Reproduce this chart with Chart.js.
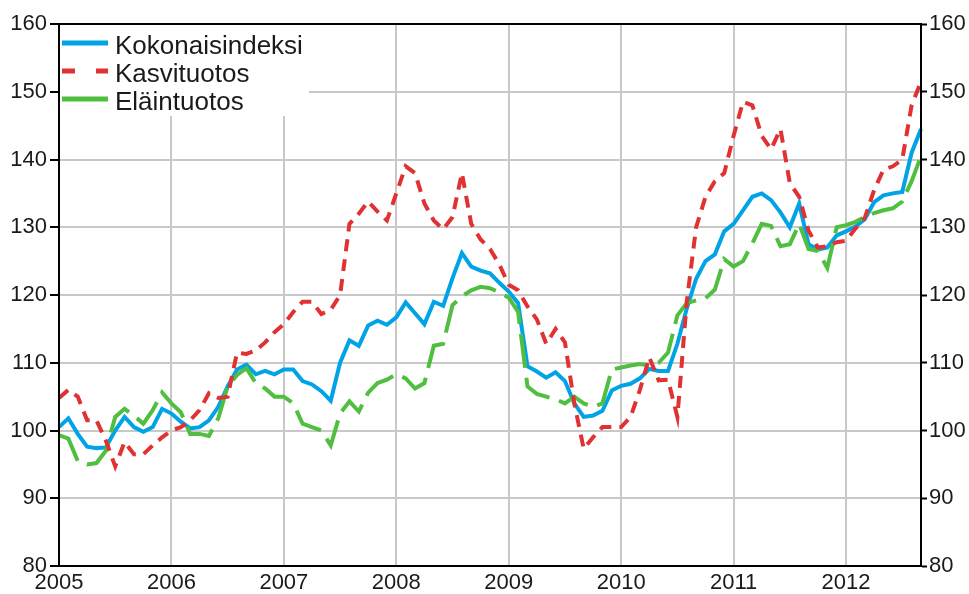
<!DOCTYPE html>
<html>
<head>
<meta charset="utf-8">
<script src="https://cdn.jsdelivr.net/npm/chart.js@4.4.1/dist/chart.umd.min.js"></script>
<style>
  html, body { margin: 0; padding: 0; background: #fff; }
  #wrap { width: 969px; height: 594px; }
</style>
</head>
<body>
<div id="wrap"><canvas id="line"></canvas></div>
<script>
// Categories: months from Jan 2005 to Sep 2012
const years = ['2005', '2006', '2007', '2008', '2009', '2010', '2011', '2012'];
const monthsInLastYear = 9;

// Series values (index, 2005 = 100)
const kokonaisindeksi = [
  100.5, 101.8, 99.5, 97.6, 97.4, 97.5, 100, 102, 100.5, 99.8, 100.5, 103.2,
  102.5, 101.3, 100.3, 100.5, 101.5, 103.5, 106.5, 109, 109.7, 108.3, 108.8, 108.3,
  109, 109, 107.3, 106.8, 105.8, 104.4, 110, 113.3, 112.5, 115.5, 116.2, 115.6,
  116.7, 118.9, 117.3, 115.7, 119, 118.4, 122.5, 126.2, 124.2, 123.6, 123.2, 121.8,
  120.5, 118.8, 109.5, 108.7, 107.8, 108.6, 107.3, 104, 102, 102.2, 102.9, 105.9,
  106.6, 106.9, 107.7, 109.1, 108.8, 108.8, 112.8, 118, 122.4, 125, 126, 129.4,
  130.5, 132.5, 134.5, 135, 134, 132.2, 130, 133.5, 127.5, 126.7, 127, 128.8,
  129.4, 130.1, 131.2, 133.7, 134.7, 135, 135.2, 141, 144.5
];
const kasvituotos = [
  104.8, 106, 105, 101.5, 101.5, 98.5, 94.7, 98.3, 96.5, 96.5, 97.8, 99,
  100, 100.5, 101.5, 103, 105.5, 104.8, 105, 111.5, 111.3, 111.8, 113, 114.5,
  115.7, 117.5, 119, 119, 117.2, 117.8, 120, 130.5, 132, 133.8, 132.3, 131,
  135, 139, 138, 133.5, 131, 129.7, 131.5, 138, 130.5, 128.2, 126.8, 124.5,
  121.5, 120.7, 118.3, 116.4, 112.8, 115, 113, 104, 97.3, 99, 100.5, 100.5,
  100.5, 102, 106, 110.8, 107.4, 107.5, 102, 119, 130, 134.5, 136.8, 138,
  143.5, 148.5, 148, 143.5, 141.5, 144.5, 136.5, 134.5, 129.5, 127, 127.2, 127.8,
  128, 129.8, 131.4, 135.5, 138.5, 139, 140, 148, 151.5
];
const elaintuotos = [
  99.3, 98.8, 95.5, 95, 95.2, 97, 102, 103.2, 102.2, 101, 103, 105.6,
  104, 102.7, 99.5, 99.5, 99.2, 101.8, 106.5, 108.2, 109.2, 107, 106.2, 105,
  105, 104, 101, 100.5, 100, 97.8, 102.5, 104.3, 102.8, 105.6, 107, 107.5,
  108.3, 107.7, 106.2, 107, 112.5, 112.8, 118.5, 119.8, 120.7, 121.2, 121, 120.4,
  119.6, 117.5, 106.5, 105.4, 105, 104.6, 104, 105, 104, 103.5, 104, 109,
  109.3, 109.6, 109.8, 109.6, 110, 111.5, 117, 118.8, 119.2, 119.5, 120.8, 125.3,
  124.2, 125, 127.6, 130.5, 130.2, 127.2, 127.5, 130.5, 126.8, 126.5, 124, 130,
  130.3, 130.8, 131.5, 132.1, 132.5, 132.8, 133.8, 136.8, 140.5
];

// Tick labels for the value axes
const yTicks = [80, 90, 100, 110, 120, 130, 140, 150, 160];

const seriesNames = ['Kokonaisindeksi', 'Kasvituotos', 'Eläintuotos'];
const seriesColors = ['#00a3e6', '#e03232', '#50bf40'];
const legendDash = [[], [13, 21], []];

// month labels built from the year list
const labels = [];
years.forEach((yr, k) => {
  const n = k === years.length - 1 ? monthsInLastYear : 12;
  for (let m = 1; m <= n; m++) labels.push(yr + '-' + String(m).padStart(2, '0'));
});

Chart.defaults.font.family = "'Liberation Sans', Arial, sans-serif";
Chart.defaults.font.size = 22;
Chart.defaults.color = '#1a1a1a';

// legend drawn in the top left corner of the plot, on a white box
const boxLegend = {
  id: 'boxLegend',
  beforeDatasetsDraw(chart) {
    const { ctx, chartArea } = chart;
    ctx.save();
    ctx.fillStyle = '#fff';
    ctx.fillRect(chartArea.left + 1, chartArea.top + 1, 249, 91);
    ctx.font = "26px 'Liberation Sans', Arial, sans-serif";
    ctx.textBaseline = 'middle';
    chart.data.datasets.forEach((ds, i) => {
      const y = chartArea.top + 19 + i * 28;
      ctx.beginPath();
      ctx.setLineDash(legendDash[i]);
      ctx.lineWidth = 5;
      ctx.strokeStyle = ds.borderColor;
      ctx.moveTo(chartArea.left + 3, y);
      ctx.lineTo(chartArea.left + 49, y);
      ctx.stroke();
      ctx.setLineDash([]);
      ctx.fillStyle = '#1a1a1a';
      ctx.fillText(ds.label, chartArea.left + 56, y + 4);
    });
    ctx.restore();
  },
  afterDraw(chart) {
    // black frame round the plot
    const { ctx, chartArea } = chart;
    ctx.save();
    ctx.strokeStyle = '#000';
    ctx.lineWidth = 2;
    ctx.strokeRect(chartArea.left, chartArea.top, chartArea.right - chartArea.left, chartArea.bottom - chartArea.top);
    ctx.restore();
  }
};

let myChart = document.getElementById('line').getContext('2d');

let chart = new Chart(myChart, {
  type: 'line',
  data: {
    labels: labels,
    datasets: [
      { label: seriesNames[0], data: kokonaisindeksi, borderColor: seriesColors[0], order: 3 },
      { label: seriesNames[1], data: kasvituotos, borderColor: seriesColors[1], borderDash: [12, 8], order: 1 },
      { label: seriesNames[2], data: elaintuotos, borderColor: seriesColors[2], borderDash: [34, 10], order: 2 },
    ],
  },
  options: {
    responsive: true,
    maintainAspectRatio: false,
    animation: false,
    elements: {
      line: { borderWidth: 4, tension: 0, fill: false, borderCapStyle: 'butt' },
      point: { radius: 0, hoverRadius: 0 },
    },
    plugins: {
      legend: { display: false },
      title: { display: false },
      tooltip: { enabled: false },
    },
    layout: {
      padding: { top: 24, left: 0, right: 0, bottom: 0 },
    },
    scales: {
      x: {
        type: 'category',
        grid: { color: '#c8c8c8', lineWidth: 2, drawTicks: false },
        border: { color: '#000', width: 2 },
        ticks: {
          autoSkip: false,
          maxRotation: 0,
          padding: 4,
          callback: function(val, i) {
            const lab = this.getLabelForValue(val);
            return lab.endsWith('-01') ? lab.slice(0, 4) : null;
          },
        },
        afterFit: (s) => { s.height = 28; },
      },
      y: {
        position: 'left',
        min: yTicks[0],
        max: yTicks[yTicks.length - 1],
        afterBuildTicks: (s) => { s.ticks = yTicks.map(v => ({ value: v })); },
        grid: { color: '#c8c8c8', lineWidth: 2, tickColor: '#000', tickLength: 9, tickWidth: 2 },
        border: { color: '#000', width: 2 },
        ticks: { padding: 3 },
        afterFit: (s) => { s.width = 59; },
      },
      y2: {
        position: 'right',
        min: yTicks[0],
        max: yTicks[yTicks.length - 1],
        afterBuildTicks: (s) => { s.ticks = yTicks.map(v => ({ value: v })); },
        grid: { drawOnChartArea: false, tickColor: '#000', tickLength: 6, tickWidth: 2 },
        border: { color: '#000', width: 2 },
        ticks: { padding: 2 },
        afterFit: (s) => { s.width = 48; },
      },
    },
  },
  plugins: [boxLegend],
});
</script>
</body>
</html>
